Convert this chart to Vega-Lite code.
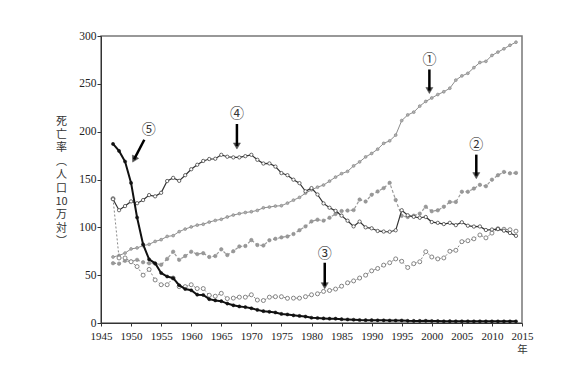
{
  "$schema": "https://vega.github.io/schema/vega-lite/v6.json",
  "width": 421,
  "height": 287,
  "autosize": {"type": "none"},
  "padding": {"left": 101, "top": 36, "right": 63, "bottom": 62},
  "background": "white",
  "config": {
    "view": {"stroke": "#777", "strokeWidth": 1.5},
    "axis": {"grid": false, "domainColor": "#333", "tickColor": "#333", "labelColor": "#222", "labelFont": "Liberation Serif", "labelFontSize": 11.5, "labelOverlap": false, "labelFlush": false, "titleColor": "#333", "titleFontWeight": "normal"}
  },
  "datasets": {
    "rates": [
      {"cause":"c1","year":1947,"rate":69.0},{"cause":"c1","year":1948,"rate":70.6},{"cause":"c1","year":1949,"rate":73.1},{"cause":"c1","year":1950,"rate":77.4},{"cause":"c1","year":1951,"rate":78.5},{"cause":"c1","year":1952,"rate":80.8},{"cause":"c1","year":1953,"rate":82.2},{"cause":"c1","year":1954,"rate":85.3},{"cause":"c1","year":1955,"rate":87.1},{"cause":"c1","year":1956,"rate":90.5},{"cause":"c1","year":1957,"rate":91.3},{"cause":"c1","year":1958,"rate":95.5},{"cause":"c1","year":1959,"rate":98.2},{"cause":"c1","year":1960,"rate":100.4},{"cause":"c1","year":1961,"rate":102.3},{"cause":"c1","year":1962,"rate":103.2},{"cause":"c1","year":1963,"rate":105.5},{"cause":"c1","year":1964,"rate":107.2},{"cause":"c1","year":1965,"rate":108.4},{"cause":"c1","year":1966,"rate":110.8},{"cause":"c1","year":1967,"rate":112.8},{"cause":"c1","year":1968,"rate":114.3},{"cause":"c1","year":1969,"rate":115.5},{"cause":"c1","year":1970,"rate":116.3},{"cause":"c1","year":1971,"rate":117.7},{"cause":"c1","year":1972,"rate":120.4},{"cause":"c1","year":1973,"rate":121.2},{"cause":"c1","year":1974,"rate":122.2},{"cause":"c1","year":1975,"rate":122.6},{"cause":"c1","year":1976,"rate":125.3},{"cause":"c1","year":1977,"rate":128.4},{"cause":"c1","year":1978,"rate":131.3},{"cause":"c1","year":1979,"rate":135.7},{"cause":"c1","year":1980,"rate":139.1},{"cause":"c1","year":1981,"rate":142.0},{"cause":"c1","year":1982,"rate":144.2},{"cause":"c1","year":1983,"rate":148.3},{"cause":"c1","year":1984,"rate":152.5},{"cause":"c1","year":1985,"rate":156.1},{"cause":"c1","year":1986,"rate":158.5},{"cause":"c1","year":1987,"rate":164.2},{"cause":"c1","year":1988,"rate":168.4},{"cause":"c1","year":1989,"rate":173.6},{"cause":"c1","year":1990,"rate":177.2},{"cause":"c1","year":1991,"rate":181.7},{"cause":"c1","year":1992,"rate":187.8},{"cause":"c1","year":1993,"rate":190.4},{"cause":"c1","year":1994,"rate":196.4},{"cause":"c1","year":1995,"rate":211.6},{"cause":"c1","year":1996,"rate":217.5},{"cause":"c1","year":1997,"rate":220.4},{"cause":"c1","year":1998,"rate":226.7},{"cause":"c1","year":1999,"rate":231.6},{"cause":"c1","year":2000,"rate":235.2},{"cause":"c1","year":2001,"rate":238.8},{"cause":"c1","year":2002,"rate":241.7},{"cause":"c1","year":2003,"rate":245.4},{"cause":"c1","year":2004,"rate":253.9},{"cause":"c1","year":2005,"rate":258.3},{"cause":"c1","year":2006,"rate":261.0},{"cause":"c1","year":2007,"rate":266.9},{"cause":"c1","year":2008,"rate":272.3},{"cause":"c1","year":2009,"rate":273.5},{"cause":"c1","year":2010,"rate":279.7},{"cause":"c1","year":2011,"rate":283.2},{"cause":"c1","year":2012,"rate":286.6},{"cause":"c1","year":2013,"rate":290.3},{"cause":"c1","year":2014,"rate":293.5},
      {"cause":"c2","year":1947,"rate":62.5},{"cause":"c2","year":1948,"rate":62.0},{"cause":"c2","year":1949,"rate":65.0},{"cause":"c2","year":1950,"rate":64.2},{"cause":"c2","year":1951,"rate":66.0},{"cause":"c2","year":1952,"rate":63.5},{"cause":"c2","year":1953,"rate":62.5},{"cause":"c2","year":1954,"rate":62.0},{"cause":"c2","year":1955,"rate":60.9},{"cause":"c2","year":1956,"rate":67.0},{"cause":"c2","year":1957,"rate":74.5},{"cause":"c2","year":1958,"rate":66.0},{"cause":"c2","year":1959,"rate":70.0},{"cause":"c2","year":1960,"rate":74.5},{"cause":"c2","year":1961,"rate":72.0},{"cause":"c2","year":1962,"rate":73.0},{"cause":"c2","year":1963,"rate":69.0},{"cause":"c2","year":1964,"rate":70.0},{"cause":"c2","year":1965,"rate":77.0},{"cause":"c2","year":1966,"rate":71.0},{"cause":"c2","year":1967,"rate":75.0},{"cause":"c2","year":1968,"rate":80.0},{"cause":"c2","year":1969,"rate":80.5},{"cause":"c2","year":1970,"rate":86.7},{"cause":"c2","year":1971,"rate":81.5},{"cause":"c2","year":1972,"rate":81.0},{"cause":"c2","year":1973,"rate":86.5},{"cause":"c2","year":1974,"rate":88.0},{"cause":"c2","year":1975,"rate":89.5},{"cause":"c2","year":1976,"rate":90.5},{"cause":"c2","year":1977,"rate":93.0},{"cause":"c2","year":1978,"rate":97.0},{"cause":"c2","year":1979,"rate":101.0},{"cause":"c2","year":1980,"rate":106.2},{"cause":"c2","year":1981,"rate":108.0},{"cause":"c2","year":1982,"rate":107.0},{"cause":"c2","year":1983,"rate":110.0},{"cause":"c2","year":1984,"rate":114.0},{"cause":"c2","year":1985,"rate":117.0},{"cause":"c2","year":1986,"rate":117.5},{"cause":"c2","year":1987,"rate":118.0},{"cause":"c2","year":1988,"rate":129.0},{"cause":"c2","year":1989,"rate":127.0},{"cause":"c2","year":1990,"rate":134.0},{"cause":"c2","year":1991,"rate":137.5},{"cause":"c2","year":1992,"rate":141.0},{"cause":"c2","year":1993,"rate":146.5},{"cause":"c2","year":1994,"rate":128.6},{"cause":"c2","year":1995,"rate":112.0},{"cause":"c2","year":1996,"rate":110.8},{"cause":"c2","year":1997,"rate":112.2},{"cause":"c2","year":1998,"rate":114.3},{"cause":"c2","year":1999,"rate":121.5},{"cause":"c2","year":2000,"rate":116.8},{"cause":"c2","year":2001,"rate":117.8},{"cause":"c2","year":2002,"rate":121.5},{"cause":"c2","year":2003,"rate":126.5},{"cause":"c2","year":2004,"rate":126.5},{"cause":"c2","year":2005,"rate":137.2},{"cause":"c2","year":2006,"rate":137.2},{"cause":"c2","year":2007,"rate":140.5},{"cause":"c2","year":2008,"rate":144.4},{"cause":"c2","year":2009,"rate":143.0},{"cause":"c2","year":2010,"rate":149.8},{"cause":"c2","year":2011,"rate":154.5},{"cause":"c2","year":2012,"rate":157.9},{"cause":"c2","year":2013,"rate":156.5},{"cause":"c2","year":2014,"rate":156.9},
      {"cause":"c3","year":1947,"rate":130},{"cause":"c3","year":1948,"rate":68},{"cause":"c3","year":1949,"rate":68},{"cause":"c3","year":1950,"rate":64},{"cause":"c3","year":1951,"rate":59},{"cause":"c3","year":1952,"rate":50},{"cause":"c3","year":1953,"rate":56},{"cause":"c3","year":1954,"rate":45},{"cause":"c3","year":1955,"rate":40},{"cause":"c3","year":1956,"rate":40},{"cause":"c3","year":1957,"rate":47},{"cause":"c3","year":1958,"rate":38},{"cause":"c3","year":1959,"rate":38},{"cause":"c3","year":1960,"rate":40},{"cause":"c3","year":1961,"rate":36},{"cause":"c3","year":1962,"rate":36},{"cause":"c3","year":1963,"rate":29},{"cause":"c3","year":1964,"rate":28},{"cause":"c3","year":1965,"rate":31},{"cause":"c3","year":1966,"rate":25.5},{"cause":"c3","year":1967,"rate":26},{"cause":"c3","year":1968,"rate":27},{"cause":"c3","year":1969,"rate":27},{"cause":"c3","year":1970,"rate":29.5},{"cause":"c3","year":1971,"rate":24},{"cause":"c3","year":1972,"rate":23.5},{"cause":"c3","year":1973,"rate":27},{"cause":"c3","year":1974,"rate":27.5},{"cause":"c3","year":1975,"rate":27.5},{"cause":"c3","year":1976,"rate":25.8},{"cause":"c3","year":1977,"rate":26},{"cause":"c3","year":1978,"rate":26},{"cause":"c3","year":1979,"rate":27.5},{"cause":"c3","year":1980,"rate":29.5},{"cause":"c3","year":1981,"rate":30.5},{"cause":"c3","year":1982,"rate":33},{"cause":"c3","year":1983,"rate":34},{"cause":"c3","year":1984,"rate":35.5},{"cause":"c3","year":1985,"rate":38.5},{"cause":"c3","year":1986,"rate":42},{"cause":"c3","year":1987,"rate":44},{"cause":"c3","year":1988,"rate":47},{"cause":"c3","year":1989,"rate":50},{"cause":"c3","year":1990,"rate":54.5},{"cause":"c3","year":1991,"rate":57},{"cause":"c3","year":1992,"rate":60.5},{"cause":"c3","year":1993,"rate":63},{"cause":"c3","year":1994,"rate":67},{"cause":"c3","year":1995,"rate":64.5},{"cause":"c3","year":1996,"rate":58},{"cause":"c3","year":1997,"rate":62},{"cause":"c3","year":1998,"rate":64},{"cause":"c3","year":1999,"rate":74.5},{"cause":"c3","year":2000,"rate":69},{"cause":"c3","year":2001,"rate":67},{"cause":"c3","year":2002,"rate":68},{"cause":"c3","year":2003,"rate":75},{"cause":"c3","year":2004,"rate":76},{"cause":"c3","year":2005,"rate":85},{"cause":"c3","year":2006,"rate":86},{"cause":"c3","year":2007,"rate":88},{"cause":"c3","year":2008,"rate":92},{"cause":"c3","year":2009,"rate":89},{"cause":"c3","year":2010,"rate":94},{"cause":"c3","year":2011,"rate":98.5},{"cause":"c3","year":2012,"rate":98},{"cause":"c3","year":2013,"rate":97.5},{"cause":"c3","year":2014,"rate":96},
      {"cause":"c4","year":1947,"rate":129.4},{"cause":"c4","year":1948,"rate":117.9},{"cause":"c4","year":1949,"rate":122.2},{"cause":"c4","year":1950,"rate":127.1},{"cause":"c4","year":1951,"rate":125.2},{"cause":"c4","year":1952,"rate":128.5},{"cause":"c4","year":1953,"rate":133.7},{"cause":"c4","year":1954,"rate":132.4},{"cause":"c4","year":1955,"rate":136.1},{"cause":"c4","year":1956,"rate":148.4},{"cause":"c4","year":1957,"rate":151.7},{"cause":"c4","year":1958,"rate":148.6},{"cause":"c4","year":1959,"rate":154.5},{"cause":"c4","year":1960,"rate":160.7},{"cause":"c4","year":1961,"rate":165.4},{"cause":"c4","year":1962,"rate":169.4},{"cause":"c4","year":1963,"rate":171.4},{"cause":"c4","year":1964,"rate":171.7},{"cause":"c4","year":1965,"rate":175.8},{"cause":"c4","year":1966,"rate":173.8},{"cause":"c4","year":1967,"rate":173.1},{"cause":"c4","year":1968,"rate":173.1},{"cause":"c4","year":1969,"rate":174.4},{"cause":"c4","year":1970,"rate":175.8},{"cause":"c4","year":1971,"rate":170.6},{"cause":"c4","year":1972,"rate":166.7},{"cause":"c4","year":1973,"rate":166.8},{"cause":"c4","year":1974,"rate":163.5},{"cause":"c4","year":1975,"rate":156.7},{"cause":"c4","year":1976,"rate":154.5},{"cause":"c4","year":1977,"rate":149.8},{"cause":"c4","year":1978,"rate":146.2},{"cause":"c4","year":1979,"rate":137.7},{"cause":"c4","year":1980,"rate":141.0},{"cause":"c4","year":1981,"rate":134.3},{"cause":"c4","year":1982,"rate":125.0},{"cause":"c4","year":1983,"rate":120.5},{"cause":"c4","year":1984,"rate":117.2},{"cause":"c4","year":1985,"rate":112.2},{"cause":"c4","year":1986,"rate":106.9},{"cause":"c4","year":1987,"rate":101.0},{"cause":"c4","year":1988,"rate":106.0},{"cause":"c4","year":1989,"rate":100.0},{"cause":"c4","year":1990,"rate":99.0},{"cause":"c4","year":1991,"rate":96.2},{"cause":"c4","year":1992,"rate":95.6},{"cause":"c4","year":1993,"rate":95.4},{"cause":"c4","year":1994,"rate":96.9},{"cause":"c4","year":1995,"rate":117.9},{"cause":"c4","year":1996,"rate":112.6},{"cause":"c4","year":1997,"rate":111.0},{"cause":"c4","year":1998,"rate":110.0},{"cause":"c4","year":1999,"rate":110.8},{"cause":"c4","year":2000,"rate":105.5},{"cause":"c4","year":2001,"rate":104.7},{"cause":"c4","year":2002,"rate":103.4},{"cause":"c4","year":2003,"rate":104.7},{"cause":"c4","year":2004,"rate":102.3},{"cause":"c4","year":2005,"rate":105.3},{"cause":"c4","year":2006,"rate":101.7},{"cause":"c4","year":2007,"rate":100.8},{"cause":"c4","year":2008,"rate":100.9},{"cause":"c4","year":2009,"rate":97.2},{"cause":"c4","year":2010,"rate":97.7},{"cause":"c4","year":2011,"rate":98.2},{"cause":"c4","year":2012,"rate":96.5},{"cause":"c4","year":2013,"rate":94.1},{"cause":"c4","year":2014,"rate":91.1},
      {"cause":"c5","year":1947,"rate":187.2},{"cause":"c5","year":1948,"rate":179.9},{"cause":"c5","year":1949,"rate":168.8},{"cause":"c5","year":1950,"rate":146.4},{"cause":"c5","year":1951,"rate":110.3},{"cause":"c5","year":1952,"rate":82.2},{"cause":"c5","year":1953,"rate":66.5},{"cause":"c5","year":1954,"rate":62.4},{"cause":"c5","year":1955,"rate":52.3},{"cause":"c5","year":1956,"rate":48.6},{"cause":"c5","year":1957,"rate":46.9},{"cause":"c5","year":1958,"rate":39.5},{"cause":"c5","year":1959,"rate":35.5},{"cause":"c5","year":1960,"rate":34.2},{"cause":"c5","year":1961,"rate":29.6},{"cause":"c5","year":1962,"rate":29.3},{"cause":"c5","year":1963,"rate":24.9},{"cause":"c5","year":1964,"rate":23.6},{"cause":"c5","year":1965,"rate":22.8},{"cause":"c5","year":1966,"rate":20.3},{"cause":"c5","year":1967,"rate":18.5},{"cause":"c5","year":1968,"rate":17.3},{"cause":"c5","year":1969,"rate":16.6},{"cause":"c5","year":1970,"rate":15.4},{"cause":"c5","year":1971,"rate":13.7},{"cause":"c5","year":1972,"rate":12.4},{"cause":"c5","year":1973,"rate":11.7},{"cause":"c5","year":1974,"rate":11.0},{"cause":"c5","year":1975,"rate":9.5},{"cause":"c5","year":1976,"rate":8.9},{"cause":"c5","year":1977,"rate":8.0},{"cause":"c5","year":1978,"rate":7.4},{"cause":"c5","year":1979,"rate":6.7},{"cause":"c5","year":1980,"rate":5.5},{"cause":"c5","year":1981,"rate":5.2},{"cause":"c5","year":1982,"rate":4.8},{"cause":"c5","year":1983,"rate":4.5},{"cause":"c5","year":1984,"rate":4.5},{"cause":"c5","year":1985,"rate":4.0},{"cause":"c5","year":1986,"rate":3.7},{"cause":"c5","year":1987,"rate":3.4},{"cause":"c5","year":1988,"rate":3.1},{"cause":"c5","year":1989,"rate":3.0},{"cause":"c5","year":1990,"rate":3.0},{"cause":"c5","year":1991,"rate":2.8},{"cause":"c5","year":1992,"rate":2.8},{"cause":"c5","year":1993,"rate":2.6},{"cause":"c5","year":1994,"rate":2.6},{"cause":"c5","year":1995,"rate":2.6},{"cause":"c5","year":1996,"rate":2.3},{"cause":"c5","year":1997,"rate":2.2},{"cause":"c5","year":1998,"rate":2.2},{"cause":"c5","year":1999,"rate":2.3},{"cause":"c5","year":2000,"rate":2.1},{"cause":"c5","year":2001,"rate":2.0},{"cause":"c5","year":2002,"rate":1.8},{"cause":"c5","year":2003,"rate":1.9},{"cause":"c5","year":2004,"rate":1.8},{"cause":"c5","year":2005,"rate":1.8},{"cause":"c5","year":2006,"rate":1.8},{"cause":"c5","year":2007,"rate":1.7},{"cause":"c5","year":2008,"rate":1.8},{"cause":"c5","year":2009,"rate":1.7},{"cause":"c5","year":2010,"rate":1.7},{"cause":"c5","year":2011,"rate":1.7},{"cause":"c5","year":2012,"rate":1.7},{"cause":"c5","year":2013,"rate":1.7},{"cause":"c5","year":2014,"rate":1.7}
    ],
    "arrows": [
      {"n":"①","year":1999.6,"rate":265,"year2":1999.6,"rate2":243},
      {"n":"②","year":2007.4,"rate":176,"year2":2007.4,"rate2":154},
      {"n":"③","year":1982.2,"rate":63,"year2":1982.2,"rate2":39},
      {"n":"④","year":1967.6,"rate":208,"year2":1967.6,"rate2":185},
      {"n":"⑤","year":1952.2,"rate":191.6,"year2":1950.5,"rate2":171}
    ],
    "labels": [
      {"n":"①","year":1999.6,"rate":275},
      {"n":"②","year":2007.4,"rate":186},
      {"n":"③","year":1982.2,"rate":72.5},
      {"n":"④","year":1967.6,"rate":218.5},
      {"n":"⑤","year":1952.95,"rate":202}
    ]
  },
  "data": {"name": "rates"},
  "encoding": {
    "x": {"field": "year", "type": "quantitative",
      "scale": {"domain": [1945, 2015], "nice": false, "zero": false},
      "axis": {"values": [1945,1950,1955,1960,1965,1970,1975,1980,1985,1990,1995,2000,2005,2010,2015], "format": "d", "tickSize": 3, "labelPadding": 4, "labelFontSize": 11,
        "title": "年", "titleFont": "Noto Sans CJK JP", "titleFontSize": 10.5, "titleX": 421, "titleY": 26, "titleAlign": "center", "titleBaseline": "middle", "titleAnchor": null}},
    "y": {"field": "rate", "type": "quantitative",
      "scale": {"domain": [0, 300], "nice": false},
      "axis": {"values": [0,50,100,150,200,250,300], "tickSize": 4, "labelPadding": 1,
        "title": ["死","亡","率","︵","人","口","10","万","対","︶"], "titleFont": "Noto Sans CJK JP", "titleFontSize": 11, "titleLineHeight": 13.4, "titleAngle": 0, "titleX": -40, "titleY": 85, "titleAlign": "center", "titleBaseline": "middle"}}
  },
  "layer": [
    {"transform": [{"filter": "datum.cause === 'c1'"}],
     "mark": {"type": "line", "stroke": "#8c8c8c", "strokeWidth": 1,
       "point": {"filled": true, "fill": "#b0b0b0", "stroke": "#888", "strokeWidth": 0.7, "size": 8}}},
    {"transform": [{"filter": "datum.cause === 'c2'"}],
     "mark": {"type": "line", "stroke": "#9a9a9a", "strokeWidth": 1.2, "strokeDash": [3, 2],
       "point": {"filled": true, "fill": "#999", "stroke": "#8a8a8a", "strokeWidth": 0.6, "size": 12}}},
    {"transform": [{"filter": "datum.cause === 'c3'"}],
     "mark": {"type": "line", "stroke": "#888", "strokeWidth": 1, "strokeDash": [2, 2],
       "point": {"filled": true, "fill": "white", "stroke": "#777", "strokeWidth": 0.9, "size": 16}}},
    {"transform": [{"filter": "datum.cause === 'c4'"}],
     "mark": {"type": "line", "stroke": "#333", "strokeWidth": 1.2,
       "point": {"filled": true, "fill": "white", "stroke": "#444", "strokeWidth": 0.8, "size": 11}}},
    {"transform": [{"filter": "datum.cause === 'c5'"}],
     "mark": {"type": "line", "stroke": "#111", "strokeWidth": 2,
       "point": {"filled": true, "fill": "#111", "stroke": "#111", "strokeWidth": 0.5, "size": 10}}},
    {"data": {"name": "arrows"},
     "mark": {"type": "rule", "stroke": "black", "strokeWidth": 2.5},
     "encoding": {"x2": {"field": "year2"}, "y2": {"field": "rate2"}}},
    {"data": {"name": "arrows"},
     "transform": [{"filter": "datum.n !== '⑤'"}],
     "mark": {"type": "point", "shape": "triangle-down", "filled": true, "fill": "black", "stroke": "black", "strokeWidth": 0.5, "size": 50},
     "encoding": {"x": {"field": "year2", "type": "quantitative"}, "y": {"field": "rate2", "type": "quantitative"}}},
    {"data": {"name": "arrows"},
     "transform": [{"filter": "datum.n === '⑤'"}],
     "mark": {"type": "point", "shape": "triangle-down", "filled": true, "fill": "black", "stroke": "black", "strokeWidth": 0.5, "size": 50, "angle": 28},
     "encoding": {"x": {"field": "year2", "type": "quantitative"}, "y": {"field": "rate2", "type": "quantitative"}}},
    {"data": {"name": "labels"},
     "mark": {"type": "text", "font": "Noto Sans CJK JP", "fontSize": 14, "color": "#333", "align": "center", "baseline": "middle"},
     "encoding": {"text": {"field": "n"}}}
  ]
}
